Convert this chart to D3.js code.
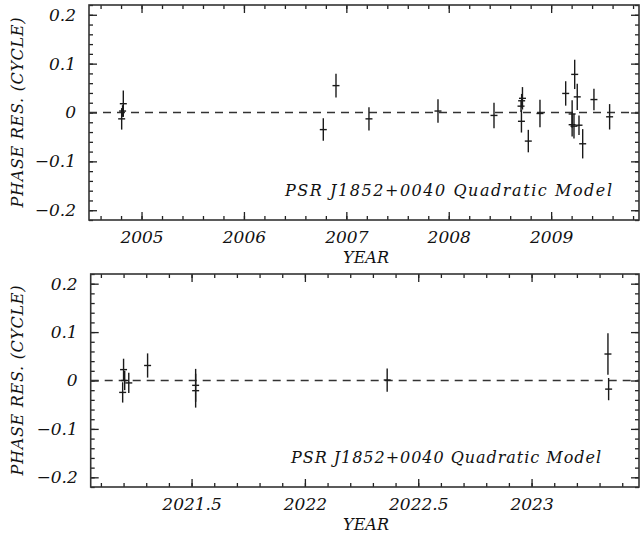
<!DOCTYPE html>
<html>
<head>
<meta charset="utf-8">
<script src="https://cdn.jsdelivr.net/npm/d3@7"></script>
<style>
  html, body { margin: 0; padding: 0; background: #fff; }
  svg { display: block; }
  text { font-family: "DejaVu Serif", "Liberation Serif", serif; font-style: italic; fill: #111; }
</style>
</head>
<body>
<script>
// Timing residuals of PSR J1852+0040 under a quadratic spin-down model.
// Early epoch (2004-2009)
const earlyYears = [2004.822, 2004.806, 2004.815, 2006.775, 2006.899, 2007.221, 2007.895,
  2008.442, 2008.720, 2008.712, 2008.706, 2008.710, 2008.777, 2008.891,
  2009.142, 2009.230, 2009.255, 2009.205, 2009.205, 2009.223, 2009.272,
  2009.308, 2009.418, 2009.571];
const earlyResiduals = [0.018, -0.013, 0.003, -0.035, 0.055, -0.013, 0.003,
  -0.006, 0.029, 0.024, 0.013, -0.018, -0.0585, -0.002,
  0.039, 0.078, 0.032, -0.003, -0.025, -0.028, -0.026,
  -0.064, 0.0265, -0.0088];
const earlyErrors = [0.027, 0.022, 0.012, 0.023, 0.0245, 0.024, 0.024,
  0.026, 0.023, 0.014, 0.012, 0.023, 0.023, 0.028,
  0.025, 0.030, 0.027, 0.028, 0.024, 0.025, 0.020,
  0.030, 0.022, 0.026];

// Recent epoch (2021-2023)
const lateYears = [2021.200, 2021.196, 2021.205, 2021.223, 2021.306, 2021.518, 2021.518,
  2022.363, 2023.337, 2023.340];
const lateResiduals = [0.0225, -0.0246, 0.0, -0.005, 0.031, -0.010, -0.021,
  0.001, 0.0547, -0.0178];
const lateErrors = [0.0225, 0.021, 0.020, 0.021, 0.025, 0.034, 0.035,
  0.024, 0.043, 0.023];

// Axis ticks
const residualTicks = [-0.2, -0.1, 0, 0.1, 0.2];
const earlyYearTicks = [2005, 2006, 2007, 2008, 2009];
const lateYearTicks = [2021.5, 2022, 2022.5, 2023];

const modelLabel = "PSR J1852+0040 Quadratic Model";
const yTitle = "PHASE RES. (CYCLE)";
const xTitle = "YEAR";

const W = 642, H = 534;
const svg = d3.select("body").append("svg").attr("width", W).attr("height", H);

function drawPanel(cfg) {
  const { left, right, top, bottom, xDomain, years, res, err,
          majorX, minorStep, labelX, labelLen } = cfg;
  const x = d3.scaleLinear().domain(xDomain).range([left, right]);
  const y = d3.scaleLinear().domain([-0.22, 0.22]).range([bottom, top]);
  const g = svg.append("g");

  const minorX = d3.range(Math.ceil(xDomain[0] / minorStep) * minorStep, xDomain[1], minorStep)
    .map(v => +v.toFixed(3));
  const minorY = d3.range(-0.22, 0.221, 0.02).map(v => +v.toFixed(2))
    .filter(v => v >= -0.22 && v <= 0.22);
  const fmtYear = d => (Math.abs(d % 1) > 1e-6 ? d.toFixed(1) : d.toFixed(0));
  const fmtRes = d => (d === 0 ? "0" : d3.format(".1f")(d).replace("-", "\u2212"));

  const styleAxis = sel => {
    sel.select(".domain").remove();
    sel.selectAll("line").attr("stroke", "#222").attr("stroke-width", 1.3);
    sel.selectAll("text").attr("font-size", 17).attr("font-family", "DejaVu Serif")
      .attr("font-style", "italic").attr("fill", "#111");
  };

  // bottom axis with labels, plus minor ticks
  g.append("g").attr("transform", `translate(0,${bottom})`)
    .call(d3.axisBottom(x).tickValues(minorX).tickSize(-4).tickFormat(""))
    .call(styleAxis);
  g.append("g").attr("transform", `translate(0,${bottom})`)
    .call(d3.axisBottom(x).tickValues(majorX).tickSize(-8).tickPadding(11).tickFormat(fmtYear))
    .call(styleAxis);
  // top axis, ticks only
  g.append("g").attr("transform", `translate(0,${top})`)
    .call(d3.axisTop(x).tickValues(minorX).tickSize(-4).tickFormat(""))
    .call(styleAxis);
  g.append("g").attr("transform", `translate(0,${top})`)
    .call(d3.axisTop(x).tickValues(majorX).tickSize(-8).tickFormat(""))
    .call(styleAxis);
  // left axis with labels
  g.append("g").attr("transform", `translate(${left},0)`)
    .call(d3.axisLeft(y).tickValues(minorY).tickSize(-4).tickFormat(""))
    .call(styleAxis);
  g.append("g").attr("transform", `translate(${left},0)`)
    .call(d3.axisLeft(y).tickValues(residualTicks).tickSize(-8).tickPadding(13).tickFormat(fmtRes))
    .call(styleAxis);
  // right axis, ticks only
  g.append("g").attr("transform", `translate(${right},0)`)
    .call(d3.axisRight(y).tickValues(minorY).tickSize(-4).tickFormat(""))
    .call(styleAxis);
  g.append("g").attr("transform", `translate(${right},0)`)
    .call(d3.axisRight(y).tickValues(residualTicks).tickSize(-8).tickFormat(""))
    .call(styleAxis);

  // frame
  g.append("rect").attr("x", left).attr("y", top)
    .attr("width", right - left).attr("height", bottom - top)
    .attr("fill", "none").attr("stroke", "#333").attr("stroke-width", 1.6);

  // zero line
  g.append("line").attr("x1", left).attr("x2", right)
    .attr("y1", y(0)).attr("y2", y(0))
    .attr("stroke", "#333").attr("stroke-width", 1.3).attr("stroke-dasharray", "8,6");

  // residuals with error bars
  const pts = years.map((yr, i) => ({ yr, r: res[i], e: err[i] }));
  const pg = g.append("g").attr("stroke", "#1a1a1a").attr("stroke-width", 1.4);
  pg.selectAll("line.err").data(pts).join("line").attr("class", "err")
    .attr("x1", d => x(d.yr)).attr("x2", d => x(d.yr))
    .attr("y1", d => y(d.r - d.e)).attr("y2", d => y(d.r + d.e));
  pg.selectAll("line.mark").data(pts).join("line").attr("class", "mark")
    .attr("x1", d => x(d.yr) - 3.5).attr("x2", d => x(d.yr) + 3.5)
    .attr("y1", d => y(d.r)).attr("y2", d => y(d.r));

  // labels
  g.append("text").attr("x", labelX).attr("y", y(-0.17))
    .attr("font-size", 16).attr("textLength", labelLen).attr("lengthAdjust", "spacing")
    .text(modelLabel);
  g.append("text").attr("x", 366).attr("y", bottom + 43)
    .attr("text-anchor", "middle").attr("font-size", 16).text(xTitle);
  g.append("text")
    .attr("transform", `translate(${23},${(top + bottom) / 2}) rotate(-90)`)
    .attr("text-anchor", "middle").attr("font-size", 16)
    .attr("textLength", 190).attr("lengthAdjust", "spacing")
    .text(yTitle);
}

drawPanel({
  left: 89, right: 639, top: 5, bottom: 220,
  xDomain: [2004.487, 2009.858],
  years: earlyYears, res: earlyResiduals, err: earlyErrors,
  majorX: earlyYearTicks, minorStep: 0.2,
  labelX: 285, labelLen: 327
});

drawPanel({
  left: 90.7, right: 639, top: 274, bottom: 487,
  xDomain: [2021.055, 2023.474],
  years: lateYears, res: lateResiduals, err: lateErrors,
  majorX: lateYearTicks, minorStep: 0.1,
  labelX: 291, labelLen: 310
});
</script>
</body>
</html>
